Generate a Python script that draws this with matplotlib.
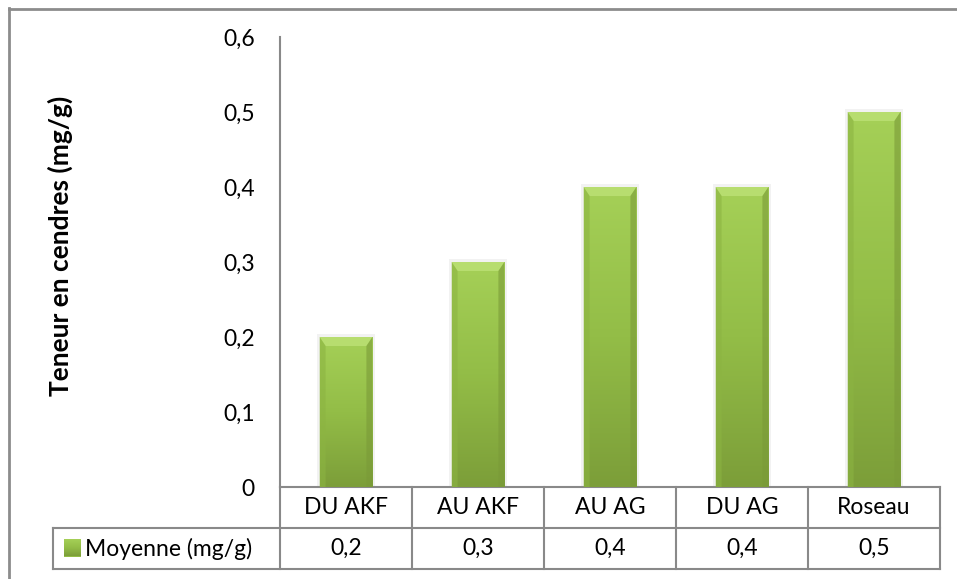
import numpy as np
import matplotlib.pyplot as plt
from matplotlib.patches import Polygon, Rectangle
from matplotlib.lines import Line2D
from matplotlib.colors import LinearSegmentedColormap

plt.rcParams['font.family'] = ['Lato', 'DejaVu Sans']

# data
categories = ['DU AKF', 'AU AKF', 'AU AG', 'DU AG', 'Roseau']
moyenne = [0.2, 0.3, 0.4, 0.4, 0.5]
series_name = 'Moyenne (mg/g)'
yticks = [0, 0.1, 0.2, 0.3, 0.4, 0.5, 0.6]

W, H = 957, 579
fig = plt.figure(figsize=(W / 100, H / 100), dpi=100)
fs = 16.5

# plot area in pixels
x0, x1, ytop, ybot = 280, 940, 37, 487
ax = fig.add_axes([x0 / W, 1 - ybot / H, (x1 - x0) / W, (ybot - ytop) / H])

for s in ['top', 'right', 'bottom']:
    ax.spines[s].set_visible(False)
ax.spines['left'].set_color('#898989')
ax.spines['left'].set_linewidth(1.5)
ax.set_xticks([])
ax.set_yticks(yticks)
ax.set_yticklabels([f'{v:g}'.replace('.', ',') for v in yticks], fontsize=fs)
ax.tick_params(axis='y', length=0, pad=18)

green = LinearSegmentedColormap.from_list('g', ['#7c9e39', '#93bd47', '#a5d057'])
grad = np.linspace(0, 1, 200).reshape(-1, 1)
bw = 0.4
px_y = 0.6 / (ybot - ytop)
px_x = len(categories) / (x1 - x0)

for i, v in enumerate(moyenne):
    # soft shadow
    ax.add_patch(Rectangle((i - bw / 2 - 3 * px_x, 0), bw + 6 * px_x, v + 3 * px_y,
                           facecolor='#e6e6e6', edgecolor='none', alpha=0.5, zorder=1))
    bar = ax.bar(i, v, width=bw, color='#93bd47', edgecolor='none', zorder=2)[0]
    im = ax.imshow(grad, extent=(i - bw / 2, i + bw / 2, 0, v), origin='lower',
                   cmap=green, aspect='auto', zorder=3)
    im.set_clip_path(bar)
    # bevel
    bx, by = 6 * px_x, 9 * px_y
    l, r = i - bw / 2, i + bw / 2
    ax.add_patch(Polygon([(l, v), (r, v), (r - bx, v - by), (l + bx, v - by)],
                         facecolor='#b7dd6f', edgecolor='none', zorder=4))
    ax.add_patch(Polygon([(l, v), (l + bx, v - by), (l + bx, 0), (l, 0)],
                         facecolor='#8cb442', edgecolor='none', alpha=0.6, zorder=4))
    ax.add_patch(Polygon([(r, v), (r - bx, v - by), (r - bx, 0), (r, 0)],
                         facecolor='#7a9a38', edgecolor='none', alpha=0.6, zorder=4))

ax.set_xlim(-0.5, len(categories) - 0.5)
ax.set_ylim(0, 0.6)

# axis title
fig.text(60 / W, 1 - 246 / H, 'Teneur en cendres (mg/g)', rotation=90,
         ha='center', va='center', fontsize=19, fontweight='bold')

# data table below the plot
lc = '#898989'
row_h = 41 / (ybot - ytop)
leg_left = -0.5 - (x0 - 53) * px_x
trans = ax.get_xaxis_transform()

def line(xs, ys):
    ax.add_line(Line2D(xs, ys, transform=trans, color=lc, lw=1.5, clip_on=False))

line([-0.5, 4.5], [0, 0])
line([leg_left, 4.5], [-row_h, -row_h])
line([leg_left, 4.5], [-2 * row_h, -2 * row_h])
line([leg_left, leg_left], [-row_h, -2 * row_h])
for k in range(len(categories) + 1):
    line([k - 0.5, k - 0.5], [0, -2 * row_h])

for i, (c, v) in enumerate(zip(categories, moyenne)):
    ax.text(i, -row_h / 2, c, transform=trans, ha='center', va='center', fontsize=fs)
    ax.text(i, -1.5 * row_h, f'{v:g}'.replace('.', ','), transform=trans,
            ha='center', va='center', fontsize=fs)

# legend key in the table
kx = -0.5 - (x0 - 64) * px_x
ks = 17 * px_x
kh = 16 / (ybot - ytop)
key = Rectangle((kx, -1.5 * row_h - kh / 2), ks, kh, transform=trans,
                facecolor='#93bd47', edgecolor='none', clip_on=False, zorder=5)
ax.add_patch(key)
kim = ax.imshow(grad, extent=(kx, kx + ks, -1.5 * row_h - kh / 2, -1.5 * row_h + kh / 2),
                origin='lower', cmap=green, aspect='auto', transform=trans,
                zorder=6, clip_on=False)
kim.set_clip_path(key)
ax.text(-0.5 - (x0 - 85) * px_x, -1.5 * row_h, series_name, transform=trans,
        ha='left', va='center', fontsize=fs)

ax.set_xlim(-0.5, len(categories) - 0.5)
ax.set_ylim(0, 0.6)

# outer chart border
fig.add_artist(Line2D([9 / W, 9 / W], [0, 1 - 8 / H], color='#8c8c8c', lw=2))
fig.add_artist(Line2D([9 / W, 1], [1 - 9 / H, 1 - 9 / H], color='#8c8c8c', lw=2))

fig.savefig('out.png', dpi=100)
